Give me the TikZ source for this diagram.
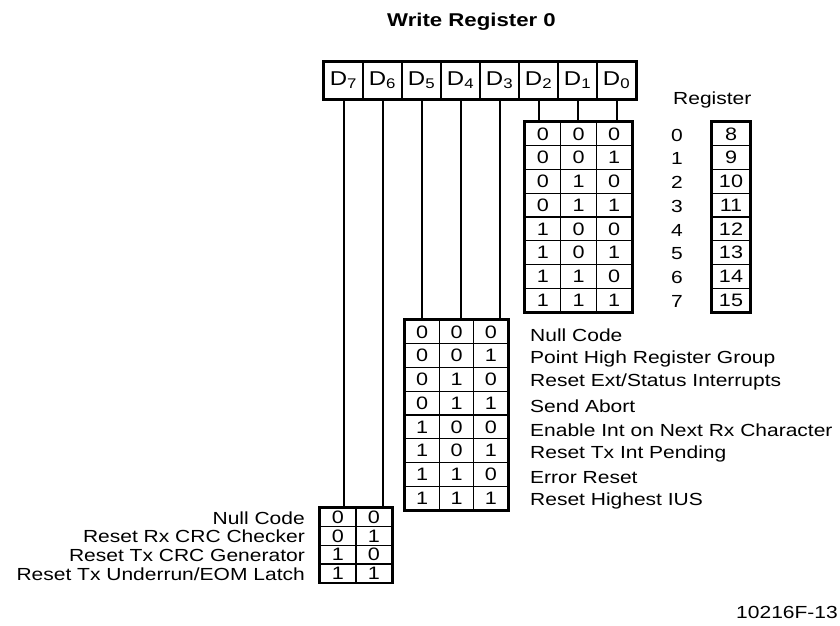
\documentclass[tikz,border=0pt]{standalone}
\usepackage{fontspec}
\setmainfont{Liberation Sans}[FakeStretch=1.2]
\usepackage{tikz}
\usetikzlibrary{calc}

\tikzset{
  bitcell/.style={draw, line width=1.6pt, minimum width=39pt, minimum height=37pt, inner sep=0pt, font=\fontsize{20}{20}\selectfont},
  codecell/.style={draw, line width=1.4pt, inner sep=0pt, font=\fontsize{18}{18}\selectfont},
  outline/.style={line width=2.6pt},
  wire/.style={line width=2pt},
  lbl/.style={inner sep=0pt, font=\fontsize{17.5}{17.5}\selectfont},
}

\begin{document}
\begin{tikzpicture}[x=1pt, y=-1pt]
\useasboundingbox (0,0) rectangle (840,625);
\node[font=\fontsize{18.5}{18.5}\selectfont\bfseries] (title) at (471.5,22) {Write Register 0};
% bit header
\foreach \i in {0,...,7} {
  \pgfmathtruncatemacro\b{7-\i}
  \node[bitcell] (d\b) at (343.5+39*\i, 80.5) {D\textsubscript{\b}};
}
\draw[outline] (d7.north west) rectangle (d0.south east);
% register select table
\node[lbl, anchor=west] (reghead) at (673,100) {Register};
\foreach \r in {0,...,7} {
  \foreach \c in {0,1,2} {
    \pgfmathtruncatemacro\bit{mod(floor(\r/2^(2-\c)),2)}
    \node[codecell, minimum width=35.7pt, minimum height=23.75pt] (r\r-\c) at (542.8+35.7*\c, 133.9+23.75*\r) {\bit};
  }
  \node[lbl] (n\r) at (677, 135+23.75*\r) {\r};
  \pgfmathtruncatemacro\reg{\r+8}
  \node[codecell, minimum width=38pt, minimum height=23.75pt] (g\r) at (731, 133.9+23.75*\r) {\reg};
}
\draw[outline] (r0-0.north west) rectangle (r7-2.south east);
\draw[outline] (g0.north west) rectangle (g7.south east);
% command table
\foreach \r in {0,...,7} {
  \foreach \c in {0,1,2} {
    \pgfmathtruncatemacro\bit{mod(floor(\r/2^(2-\c)),2)}
    \node[codecell, minimum width=34.3pt, minimum height=23.75pt] (m\r-\c) at (422.2+34.3*\c, 331.9+23.75*\r) {\bit};
  }
}
\draw[outline] (m0-0.north west) rectangle (m7-2.south east);
\foreach \r/\t in {0/Null Code, 1/Point High Register Group, 2/{Reset Ext/Status Interrupts}, 3/Send Abort, 4/Enable Int on Next Rx Character, 5/Reset Tx Int Pending, 6/Error Reset, 7/Reset Highest IUS}
  \node[lbl, anchor=west] (ml\r) at (530, 334.9+23.75*\r) {\t};
% crc reset table
\foreach \r in {0,...,3} {
  \foreach \c in {0,1} {
    \pgfmathtruncatemacro\bit{mod(floor(\r/2^(1-\c)),2)}
    \node[codecell, minimum width=36pt, minimum height=18.6pt] (b\r-\c) at (338+36*\c, 517.3+18.6*\r) {\bit};
  }
}
\draw[outline] (b0-0.north west) rectangle (b3-1.south east);
\foreach \r/\t in {0/Null Code, 1/Reset Rx CRC Checker, 2/Reset Tx CRC Generator, 3/{Reset Tx Underrun/EOM Latch}}
  \node[lbl, anchor=east] (bl\r) at (305, 518+18.6*\r) {\t};
% bits down to their tables
\foreach \b/\t in {7/b0-0, 6/b0-1, 5/m0-0, 4/m0-1, 3/m0-2, 2/r0-0, 1/r0-1, 0/r0-2}
  \draw[wire] (d\b.south) -- (d\b.south |- \t.north);
\node[lbl, anchor=east] (fig) at (838,612) {10216F-13};
\end{tikzpicture}
\end{document}
